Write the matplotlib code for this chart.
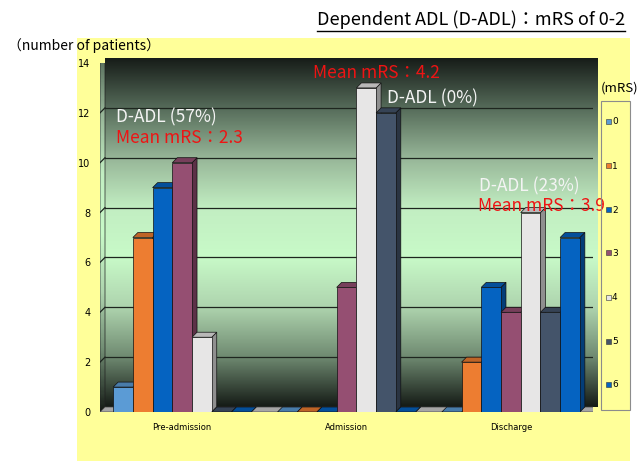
import numpy as np
import matplotlib.pyplot as plt
from matplotlib.patches import Polygon, Rectangle
from matplotlib.colors import LinearSegmentedColormap, to_rgb
from matplotlib.lines import Line2D

# categories and counts (number of patients per mRS grade in each phase)
phases = ['Pre-admission', 'Admission', 'Discharge']
mrs_labels = ['0', '1', '2', '3', '4', '5', '6']
mrs0 = [1, 0, 0]
mrs1 = [7, 0, 2]
mrs2 = [9, 0, 5]
mrs3 = [10, 5, 4]
mrs4 = [3, 13, 8]
mrs5 = [0, 12, 4]
mrs6 = [0, 0, 7]
counts = [mrs0, mrs1, mrs2, mrs3, mrs4, mrs5, mrs6]

dadl_text = ['D-ADL (57%)', 'D-ADL (0%)', 'D-ADL (23%)']
mean_text = ['Mean mRS：2.3', 'Mean mRS：4.2', 'Mean mRS：3.9']

colors = ['#5b9bd5', '#ed7d31', '#0563c1', '#954f72', '#e7e6e6', '#44546a', '#0563c1']
jp = ['Noto Sans CJK JP', 'DejaVu Sans']

W, H = 639, 461
fig = plt.figure(figsize=(W / 100, H / 100), dpi=100)
fig.patch.set_facecolor('white')

# yellow chart panel
fig.add_artist(Rectangle((77 / W, 0), (630 - 77) / W, (H - 38) / H, transform=fig.transFigure,
                         facecolor='#ffff99', edgecolor='none', zorder=-10))

ax = fig.add_axes([100 / W, (H - 412) / H, 493 / W, (412 - 63) / H])
ax.patch.set_alpha(0)
for s in ax.spines.values():
    s.set_visible(False)

# 3d depth offset (about 5 px each way)
dx = 3 / 493 * 5
dy = 14 / 349 * 5

# back wall with dark-light-dark gradient
wall = LinearSegmentedColormap.from_list('wall', [
    (0.0, '#151b16'), (0.143, '#6f8a71'), (0.286, '#aed4ae'), (0.43, '#c8fac8'),
    (0.57, '#c2eec2'), (0.714, '#97b698'), (0.857, '#566c5a'), (1.0, '#171d19')])
grad = np.linspace(0, 1, 256).reshape(-1, 1)
ax.imshow(grad, origin='lower', extent=(-0.5 + dx, 2.5 + dx, dy, 14 + dy), aspect='auto',
          cmap=wall, zorder=0, clip_on=False)

# left side wall
side_wall = Polygon([(-0.5, 0), (-0.5 + dx, dy), (-0.5 + dx, 14 + dy), (-0.5, 14)],
                    facecolor='none', edgecolor='#202020', lw=0.5, zorder=0.6)
ax.add_patch(side_wall)
im2 = ax.imshow(grad * 0.85, origin='lower', extent=(-0.5, -0.5 + dx, 0, 14 + dy), aspect='auto',
                cmap=wall, vmin=0, vmax=1, zorder=0.5)
im2.set_clip_path(side_wall)

for v in range(2, 14, 2):
    ax.plot([-0.5 + dx, 2.5 + dx], [v + dy, v + dy], color='#1e261f', lw=0.9, zorder=1)
    ax.plot([-0.5, -0.5 + dx], [v, v + dy], color='#1e261f', lw=0.9, zorder=1)

# floor
ax.add_patch(Polygon([(-0.5, 0), (2.5, 0), (2.5 + dx, dy), (-0.5 + dx, dy)],
                     facecolor='#a6a6a6', edgecolor='#404040', lw=0.5, zorder=1.5))

# 3d bars: side, top, then front
w = 0.12
z = 2
for g in range(len(phases)):
    for i in range(len(mrs_labels)):
        v = counts[i][g]
        x0 = g + (i - 3.5) * w
        x1 = x0 + w
        c = np.array(to_rgb(colors[i]))
        ax.add_patch(Polygon([(x1, 0), (x1 + dx, dy), (x1 + dx, v + dy), (x1, v)],
                             facecolor=c * 0.62, edgecolor='#111111', lw=0.5, zorder=z))
        ax.add_patch(Polygon([(x0, v), (x1, v), (x1 + dx, v + dy), (x0 + dx, v + dy)],
                             facecolor=c * 0.8, edgecolor='#111111', lw=0.5, zorder=z + 0.1))
        if v > 0:
            ax.bar(x0, v, w, align='edge', color=c, edgecolor='#111111', lw=0.5, zorder=z + 0.2)
        z += 1

ax.set_xlim(-0.5, 2.5)
ax.set_ylim(0, 14)
ax.set_yticks(range(0, 15, 2))
ax.tick_params(axis='y', length=0, pad=7, labelsize=7)
ax.set_xticks(range(len(phases)))
ax.set_xticklabels(phases)
ax.tick_params(axis='x', length=0, pad=8, labelsize=6)

# annotations
dadl_pos = [(-0.403, 11.8), (1.247, 12.6), (1.807, 9.04)]
mean_pos = [(-0.403, 11.0), (0.796, 13.6), (1.80, 8.27)]
for t, p in zip(dadl_text, dadl_pos):
    ax.text(p[0], p[1], t, color='#f4f4f4', fontsize=12.5, family=jp, ha='left', va='center',
            zorder=100, clip_on=False)
for t, p in zip(mean_text, mean_pos):
    ax.text(p[0], p[1], t, color='#ee1414', fontsize=12.5, family=jp, ha='left', va='center',
            zorder=100, clip_on=False)

# title with underline
title = fig.text(625 / W, 1 - 20 / H, 'Dependent ADL (D-ADL)：mRS of 0-2', ha='right', va='center',
                 fontsize=13, family=jp)
fig.text(8 / W, 1 - 46 / H, '（number of patients）', ha='left', va='center', fontsize=10, family=jp)
fig.text(601 / W, 1 - 88 / H, '(mRS)', ha='left', va='center', fontsize=9.5, family=jp)

fig.canvas.draw()
bb = title.get_window_extent(fig.canvas.get_renderer())
fig.add_artist(Line2D([bb.x0 / W, bb.x1 / W], [(H - 31) / H, (H - 31) / H], color='black', lw=1,
                      transform=fig.transFigure))

# legend box
fig.add_artist(Rectangle((601 / W, (H - 410) / H), 29 / W, 309 / H, transform=fig.transFigure,
                         facecolor='none', edgecolor='#8c8c8c', lw=0.8))
leg_y = [122, 166, 210, 253, 297, 341, 384]
for lab, col, yy in zip(mrs_labels, colors, leg_y):
    fig.add_artist(Rectangle((606 / W, (H - yy - 2.5) / H), 5 / W, 5 / H, transform=fig.transFigure,
                             facecolor=col, edgecolor='#333333', lw=0.4))
    fig.text(612 / W, (H - yy) / H, lab, ha='left', va='center', fontsize=6.5)

fig.savefig('out.png', dpi=100)
